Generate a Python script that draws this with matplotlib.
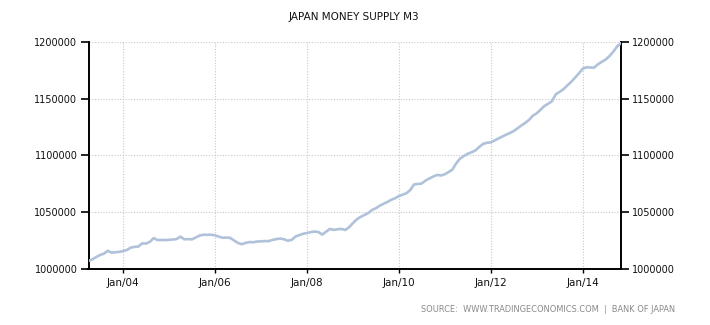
import matplotlib
matplotlib.use("Agg")
import matplotlib.pyplot as plt
import pandas as pd

# Monthly M3 money supply, Japan (JPY 100 million), Apr 2003 - Nov 2014
start_month = "2003-04-01"
m3_values = [
    1007000, 1008500, 1010500, 1012300, 1013500, 1016000, 1014400, 1014800, 1015100, 1015800,
    1016800, 1018800, 1019500, 1019800, 1022600, 1022400, 1024000, 1027200, 1025500, 1025600,
    1025500, 1025700, 1026000, 1026400, 1028500, 1026200, 1026300, 1026100, 1027800, 1029500,
    1030200, 1030100, 1030200, 1029600, 1028500, 1027500, 1027700, 1027400, 1025200, 1023000,
    1021800, 1023000, 1023700, 1023600, 1024200, 1024400, 1024600, 1024500, 1025600, 1026300,
    1026800, 1026300, 1024900, 1025600, 1028500, 1029900, 1031000, 1031800, 1032500, 1033000,
    1032600, 1030300, 1032800, 1035300, 1034500, 1035000, 1035300, 1034400, 1036800, 1040500,
    1043800, 1045800, 1047500, 1049200, 1052000, 1053500, 1055700, 1057500, 1059000, 1061000,
    1062300, 1064300, 1065600, 1066700, 1069500, 1074500, 1074900, 1075300, 1078000, 1079800,
    1081500, 1082900, 1082400, 1083500, 1085500, 1087500, 1093000, 1097200, 1099500, 1101500,
    1102800, 1104500, 1107500, 1110200, 1111200, 1111600, 1113300, 1114800, 1116600, 1118300,
    1119800, 1121500, 1124000, 1126500, 1128700, 1131500, 1135200, 1137200, 1140500, 1143500,
    1145600, 1147800, 1154000, 1156000, 1158400, 1161800, 1164800, 1168600, 1172300, 1176500,
    1177700, 1177600, 1177400, 1180300, 1182500, 1184500, 1187500, 1191500, 1196000, 1199000,
]
x_tick_dates = ["2004-01-01", "2006-01-01", "2008-01-01", "2010-01-01", "2012-01-01", "2014-01-01"]
x_tick_labels = ["Jan/04", "Jan/06", "Jan/08", "Jan/10", "Jan/12", "Jan/14"]
y_ticks = [1000000, 1050000, 1100000, 1150000, 1200000]

dates = pd.date_range(start_month, periods=len(m3_values), freq="MS")

W, H = 710, 325
fig = plt.figure(figsize=(W / 100, H / 100), dpi=100)
fig.patch.set_facecolor("white")
left, right, top, bottom = 88.5, 621, 42, 269
ax = fig.add_axes([left / W, 1 - bottom / H, (right - left) / W, (bottom - top) / H])

text_color = "#111111"
font = "DejaVu Sans"

ax.plot(dates, m3_values, color="#b0c2da", lw=1.9, solid_joinstyle="round", zorder=3)
ax.set_xlim(dates[0], dates[-1])
ax.set_ylim(y_ticks[0], y_ticks[-1])

ax.set_yticks(y_ticks)
ax.set_yticklabels([str(v) for v in y_ticks], fontsize=7, color=text_color, family=font)
ax.set_xticks(pd.to_datetime(x_tick_dates))
ax.set_xticklabels(x_tick_labels, fontsize=7.5, color=text_color, family=font)

ax.grid(True, color="#c8c8c8", linestyle=(0, (1, 1.5)), linewidth=0.8)
ax.set_axisbelow(True)

for side in ("left", "right", "bottom"):
    ax.spines[side].set_color("black")
    ax.spines[side].set_linewidth(1.4)
ax.spines["top"].set_visible(False)

ax.tick_params(axis="y", direction="out", length=6, width=1.2, color="black", pad=2,
               left=True, right=True, labelleft=True, labelright=True)
ax.tick_params(axis="x", direction="out", length=3, width=1, color="black", pad=3.5)

fig.text(354 / W, 1 - 17 / H, "JAPAN MONEY SUPPLY M3", ha="center", va="center",
         fontsize=7.5, color=text_color, family=font)
fig.text(675 / W, 1 - 310 / H, "SOURCE:  WWW.TRADINGECONOMICS.COM  |  BANK OF JAPAN",
         ha="right", va="center", fontsize=5.95, color="#8a8a8a", family=font)

fig.savefig("out.png", dpi=100, facecolor="white")
